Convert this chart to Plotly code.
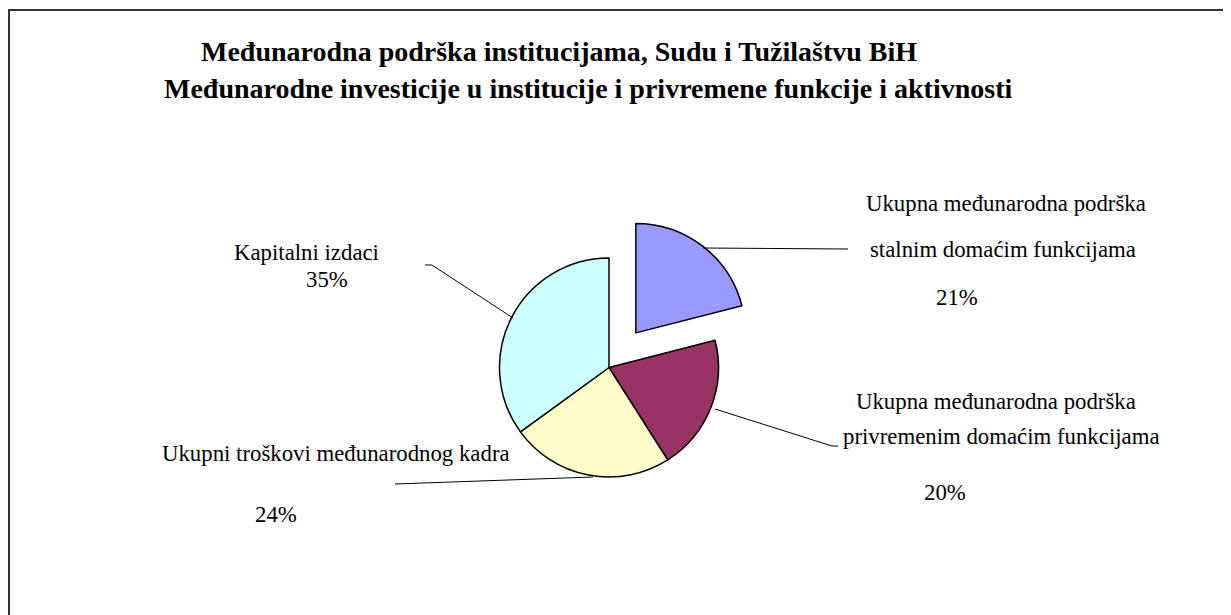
import plotly.graph_objects as go

W, H = 1231, 615
OFF = 8  # page body margin offset of the figure

# Data
labels = [
    "Ukupna međunarodna podrška stalnim domaćim funkcijama",
    "Ukupna međunarodna podrška privremenim domaćim funkcijama",
    "Ukupni troškovi međunarodnog kadra",
    "Kapitalni izdaci",
]
values = [21, 20, 24, 35]
colors = ["#9999FF", "#993366", "#FFFFCC", "#CCFFFF"]
pulls = [0.4, 0, 0, 0]

title_lines = [
    "Međunarodna podrška institucijama, Sudu i Tužilaštvu BiH",
    "Međunarodne investicije u institucije i privremene funkcije i aktivnosti",
]
title_pos = [(200, 51), (163, 88)]  # left edge, middle (page px)

# label text lines (per slice): (text, x, y, anchor)
label_texts = [
    ["Ukupna međunarodna podrška", "stalnim domaćim funkcijama", "21%"],
    ["Ukupna međunarodna podrška", "privremenim domaćim funkcijama", "20%"],
    ["Ukupni troškovi međunarodnog kadra", "24%"],
    ["Kapitalni izdaci", "35%"],
]
label_pos = [
    [(865, 203, "left"), (869, 249, "left"), (957, 297.5, "center")],
    [(855, 401.5, "left"), (842, 436.5, "left"), (945, 492, "center")],
    [(161, 453, "left"), (276, 514, "center")],
    [(233, 252, "left"), (326.5, 279.5, "center")],
]
leader_lines = [
    [(703, 248), (848, 249)],
    [(715, 409), (832, 446), (838, 446)],
    [(593, 477), (395, 484)],
    [(425, 265), (432, 265), (513, 318)],
]


def px(x):
    return (x - OFF) / W


def py(y):
    return 1 - (y - OFF) / H


# pie geometry (page pixels)
cx, cy, r = 609, 367.5, 109.5
half = r * (1 + max(pulls))

fig = go.Figure(
    go.Pie(
        labels=labels,
        values=values,
        sort=False,
        direction="clockwise",
        rotation=0,
        pull=pulls,
        textinfo="none",
        hoverinfo="label+percent",
        marker=dict(colors=colors, line=dict(color="#000000", width=1.5)),
        domain=dict(x=[px(cx - half), px(cx + half)], y=[py(cy + half), py(cy - half)]),
        showlegend=False,
    )
)

FONT = "Liberation Serif, Times New Roman, serif"
annotations = []
for t, (x, y) in zip(title_lines, title_pos):
    annotations.append(
        dict(
            text=f"<b>{t}</b>",
            x=px(x),
            y=py(y),
            xref="paper",
            yref="paper",
            xanchor="left",
            yanchor="middle",
            showarrow=False,
            borderpad=0,
            font=dict(family=FONT, size=28, color="#000"),
        )
    )

for texts, poss in zip(label_texts, label_pos):
    for t, (x, y, anc) in zip(texts, poss):
        annotations.append(
            dict(
                text=t,
                x=px(x),
                y=py(y),
                xref="paper",
                yref="paper",
                xanchor=anc,
                yanchor="middle",
                showarrow=False,
                borderpad=0,
                font=dict(family=FONT, size=22.8, color="#000"),
            )
        )

shapes = [
    dict(
        type="rect",
        xref="paper",
        yref="paper",
        x0=px(9),
        y0=py(10),
        x1=px(1245),
        y1=py(640),
        line=dict(color="#333333", width=2),
        fillcolor="rgba(0,0,0,0)",
    )
]
for pts in leader_lines:
    path = "M " + " L ".join(f"{px(x)},{py(y)}" for x, y in pts)
    shapes.append(
        dict(type="path", xref="paper", yref="paper", path=path, line=dict(color="#000000", width=1))
    )

fig.update_layout(
    width=W,
    height=H,
    margin=dict(l=0, r=0, t=0, b=0),
    paper_bgcolor="white",
    plot_bgcolor="white",
    annotations=annotations,
    shapes=shapes,
)

fig.write_html("out.html")
